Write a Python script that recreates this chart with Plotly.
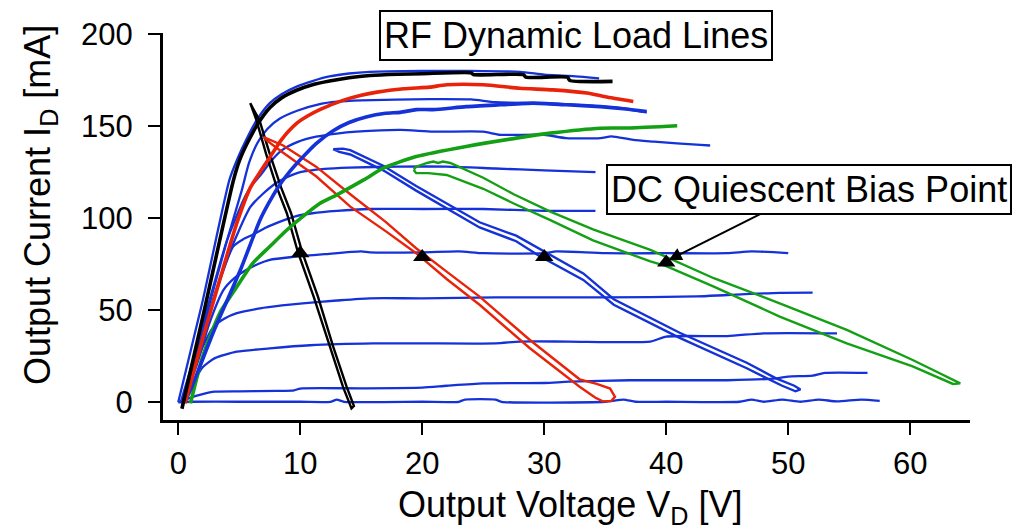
import plotly.graph_objects as go

# ---------------- DC I-V family (blue, thin) ----------------
dc_v0 = [0, 1, 5, 10, 12.5, 13, 13.6, 20, 23, 23.5, 26, 26.5, 35, 36.5, 37.5, 40, 46, 47, 48, 49.5, 51, 52.5, 54, 56, 57.5]
dc_i0 = [0, 0.3, 0.3, 0.3, 0.3, 1.5, 0.3, 0.3, 0.3, 1.5, 1.5, 0.3, 0.3, 1.5, 0.3, 0.3, 0.3, 1.5, 0.3, 1.5, 0.3, 1.5, 0.5, 1.5, 0.8]

dc_v1 = [0.2, 1, 2, 3, 5, 8, 9.5, 10, 15, 20, 22, 25, 30, 32, 37, 45, 49, 50, 52, 53, 56.5]
dc_i1 = [0, 2.5, 4.5, 5.8, 6, 6.2, 6.5, 7.5, 7.6, 8, 9, 10.3, 10.5, 11.2, 12, 12, 13, 14, 14.5, 16, 16]

dc_v2 = [0.3, 1, 2, 3, 4.8, 7.5, 10.8, 16, 20, 26, 28, 32, 38.7, 40, 45, 48, 54]
dc_i2 = [0, 8, 19, 24, 27.5, 29.3, 31, 32, 32, 32, 33, 33, 33, 35.7, 36, 37.5, 37.5]

dc_v3 = [0.3, 1, 2, 2.9, 3.8, 4.8, 6.7, 8.5, 10.2, 13, 15.7, 20, 26, 30, 35, 42.5, 45, 49.3, 52]
dc_i3 = [0, 12, 30, 41, 45.5, 48.4, 51, 52.6, 53.8, 55.3, 56.5, 56.5, 57, 57, 57, 57.5, 58.3, 59.5, 59.6]

dc_v4 = [0.3, 1.5, 2.5, 3.7, 4.6, 5.6, 6.5, 7.5, 9.4, 12, 15, 15.7, 20, 23, 25, 30, 31, 35, 40, 45, 47, 50]
dc_i4 = [0, 20, 42, 61, 67.5, 72, 75, 77.4, 79, 80.5, 82, 81.5, 81.5, 82, 81, 81, 82, 81, 81, 81, 82, 81]

dc_v5 = [0.3, 1.5, 3, 4.5, 5.3, 6.1, 7.2, 8.3, 9.6, 11, 13, 15.7, 20, 25, 30, 34.2]
dc_i5 = [0, 25, 58, 84.6, 88.5, 91, 95, 98, 101, 102.7, 104, 105, 105, 105, 104, 104]

dc_v6 = [0.3, 2, 4, 5.9, 6.9, 8, 9, 10, 12, 14, 18, 22, 26, 30, 34.2]
dc_i6 = [0, 38, 78, 106, 113, 119, 122.5, 125, 126.8, 127.5, 128, 128, 127, 126, 125]

dc_v7 = [0.3, 2, 4, 5.5, 6.1, 6.7, 7.6, 8.5, 9.8, 11.3, 13, 14.6, 18.2, 20.9, 25, 26.4, 30, 31.8, 34.6, 35.5, 37.3, 39, 42.8, 43.6]
dc_i7 = [0, 42, 88, 112, 118.5, 123, 131, 137, 141.5, 144.3, 146, 147, 148, 147, 147, 145.3, 145.3, 143.5, 143.5, 144.5, 142.5, 141.6, 139.8, 139.5]

dc_v8 = [0.2, 2, 4, 5.2, 5.8, 6.5, 7.3, 8.3, 9.8, 11.6, 13, 15, 20.6, 24, 26, 30, 34, 36, 38.4]
dc_i8 = [0, 40, 88, 115, 130, 141, 148.5, 154, 158.5, 162, 163.3, 164, 164.7, 164.5, 163, 162.5, 161, 160, 157.5]

dc_v9 = [0, 2, 4.2, 4.9, 5.6, 6.5, 7.5, 8.5, 9.7, 11, 12.4, 14, 15.7, 20, 24, 28, 30, 32, 34.5]
dc_i9 = [0, 55, 121, 133, 143, 154, 162.5, 167.5, 171.5, 174.5, 177, 178.6, 179.5, 180, 180, 179.5, 178, 177.3, 176]

# ---------------- RF dynamic knee traces (thick) ----------------
black_knee_v = [0.3, 2, 4.5, 5.0, 5.6, 6.5, 7.5, 8.5, 9.7, 11, 12.4, 14, 15.7, 18, 20, 24, 24.2, 28.3, 28.5, 31.9, 32.1, 35.6]
black_knee_i = [-3.5, 46, 120, 131, 140, 151, 160, 165.5, 169.5, 172.5, 174.5, 176.3, 177.5, 178.2, 178.5, 179, 178, 178, 176.6, 176.6, 174.8, 174.3]

red_knee_v = [0.55, 2.05, 3.4, 4.8, 5.9, 6.7, 7.5, 8.5, 9.7, 10.6, 11.6, 13.5, 15, 16.3, 18.5, 20.6, 22, 25, 28, 30.7, 33.5, 35, 37.3]
red_knee_i = [-0.5, 35.7, 66.5, 97.3, 116.5, 125, 133, 143, 151.5, 155.5, 159, 164, 166.8, 168.5, 170.3, 171.2, 172.5, 172.5, 170.6, 169.7, 168, 166, 163.4]

blue_knee_v = [0.5, 1, 3, 5.1, 6.7, 7.4, 8.2, 9.1, 10, 11.3, 12.7, 14, 15.4, 17, 18.2, 19.5, 20.9, 23.6, 26.4, 29.1, 31.8, 34.6, 36.5, 38.4]
blue_knee_i = [0, 6.7, 40, 72, 99, 108, 117, 125, 131.7, 140.5, 147.5, 152, 155, 157, 157.5, 159, 159, 160.6, 161.6, 162.5, 161.6, 160.6, 159.5, 158]

green_knee_v = [1, 2, 3.4, 4.8, 6.1, 7.5, 8.9, 10.2, 11.6, 13, 15.2, 16.8, 19.5, 23.6, 27.7, 30.5, 34.6, 37, 40.9]
green_knee_i = [-0.6, 24.8, 48.4, 62.8, 75.5, 84.6, 93.6, 100.9, 108, 112.7, 120.8, 127.2, 133.5, 139, 143.5, 146.2, 148.9, 149, 150.2]

# ---------------- RF load-line loops ----------------
black_loop_v = [5.9, 6.4, 7.2, 8.1, 8.9, 9.8, 11.1, 12.4, 13.5, 14.2, 14.4, 13.8, 12.7, 11.45, 10.15, 9.25, 8.45, 7.5, 6.65, 6.1, 5.9]
black_loop_i = [162.5, 153.4, 135, 116.3, 102.7, 81.8, 57.4, 30.2, 8.5, -3.3, -2, 8.5, 30.2, 57.4, 81.8, 102.7, 116.3, 135, 153.4, 160, 162.5]

red_loop_v = [7, 8.6, 11.3, 14.1, 17, 19.5, 22, 24.7, 28.8, 32.9, 34.3, 35.4, 35.8, 35.5, 34.8, 34.2, 32.9, 28.8, 24.7, 22, 19.5, 17, 14.1, 11.3, 8.6, 7.3, 7]
red_loop_i = [144, 139.5, 128, 113, 98, 83.7, 71, 57.4, 34, 12.5, 10, 7.5, 3, 0.8, 0.5, 2.5, 8.5, 29.5, 53, 67, 81, 93, 106.3, 122.8, 135.6, 142, 144]

blue_loop_v = [12.7, 13.5, 14.1, 16.8, 19.5, 22.3, 24.7, 27.7, 29.6, 33.2, 35.7, 41.1, 46.6, 49, 50.5, 51, 50.6, 49.5, 46.6, 41.1, 35.7, 33.2, 29.6, 27.7, 24.7, 22.3, 19.5, 16.8, 14.1, 13.2, 12.7]
blue_loop_i = [137.5, 137.8, 137, 128.5, 117.5, 106.8, 97.8, 90.5, 83.5, 70, 56, 37.8, 21.5, 13, 9, 7, 6, 9, 18.5, 35, 53, 66.5, 79.5, 87.5, 95, 104.3, 115, 126, 134.6, 136, 137.5]

green_loop_v = [19.3, 19.5, 20.4, 20.9, 21.3, 21.7, 22.3, 25, 27.5, 30.5, 34, 38.7, 43.9, 49.3, 54.8, 60.2, 62.5, 64.1, 63.5, 60.2, 54.8, 49.3, 43.9, 40, 38.7, 34, 30.5, 27.5, 25, 22, 20.5, 19.5, 19.3]
green_loop_i = [126.3, 128, 130, 130.8, 130, 130.8, 130, 122, 113, 103.6, 94, 82.8, 67.4, 53.8, 39.3, 23, 15.5, 10.3, 10, 19.5, 32, 46.6, 62.8, 74, 76.5, 88, 99, 108, 116, 123.5, 124.5, 124.5, 126.3]

# ---------------- DC quiescent bias points ----------------
bias_v = [10, 20, 30, 40]
bias_i = [81, 79, 79, 76]

BLUE = "rgb(20,50,215)"
RED = "rgb(232,35,10)"
GREEN = "rgb(20,160,20)"
BLACK = "black"
FONT = "Liberation Sans, Arial, sans-serif"

fig = go.Figure()

dc_sets = [(dc_v0, dc_i0), (dc_v1, dc_i1), (dc_v2, dc_i2), (dc_v3, dc_i3), (dc_v4, dc_i4),
           (dc_v5, dc_i5), (dc_v6, dc_i6), (dc_v7, dc_i7), (dc_v8, dc_i8), (dc_v9, dc_i9)]
for v, i in dc_sets:
    fig.add_trace(go.Scatter(x=v, y=i, mode="lines", line=dict(color=BLUE, width=2.3, shape="spline", smoothing=0.6),
                             showlegend=False))

loops = [(black_loop_v, black_loop_i, BLACK), (red_loop_v, red_loop_i, RED),
         (blue_loop_v, blue_loop_i, BLUE), (green_loop_v, green_loop_i, GREEN)]
for v, i, c in loops:
    fig.add_trace(go.Scatter(x=v, y=i, mode="lines", line=dict(color=c, width=2.4), showlegend=False))

knees = [(green_knee_v, green_knee_i, GREEN), (blue_knee_v, blue_knee_i, BLUE),
         (red_knee_v, red_knee_i, RED), (black_knee_v, black_knee_i, BLACK)]
for v, i, c in knees:
    fig.add_trace(go.Scatter(x=v, y=i, mode="lines", line=dict(color=c, width=3.6, shape="spline", smoothing=0.6),
                             showlegend=False))

fig.add_trace(go.Scatter(x=bias_v, y=bias_i, mode="markers",
                         marker=dict(symbol="triangle-up", size=16, color=BLACK), showlegend=False))

axis_common = dict(showline=True, linewidth=3, linecolor="black", ticks="outside", ticklen=12,
                   tickwidth=2, tickcolor="black", showgrid=False, zeroline=False,
                   tickfont=dict(family=FONT, size=31, color="black"))

fig.update_layout(
    width=1026, height=531,
    margin=dict(l=163, r=56, t=33, b=111),
    paper_bgcolor="white", plot_bgcolor="white",
    font=dict(family=FONT, color="black"),
    xaxis=dict(range=[-1.25, 64.9], dtick=10, tick0=0, ticklabelstandoff=2, **axis_common),
    yaxis=dict(range=[-9.6, 200.6], dtick=50, tick0=0, ticklabelstandoff=9, **axis_common),
    annotations=[
        dict(text="RF Dynamic Load Lines", xref="paper", yref="paper", x=0.5115, y=0.993,
             xanchor="center", yanchor="middle", showarrow=False,
             font=dict(family=FONT, size=36, color="black"),
             bordercolor="black", borderwidth=2, borderpad=3, bgcolor="white"),
        dict(text="DC Quiescent Bias Point", x=40.2, y=77.3, xref="x", yref="y",
             ax=51.74, ay=115.7, axref="x", ayref="y",
             showarrow=True, arrowhead=2, arrowsize=1.3, arrowwidth=2, arrowcolor="black",
             font=dict(family=FONT, size=36, color="black"),
             bordercolor="black", borderwidth=2, borderpad=3, bgcolor="white"),
        dict(text="Output Voltage V<sub>D</sub> [V]", xref="paper", yref="paper", x=0.5043, y=-0.225,
             xanchor="center", yanchor="middle", showarrow=False,
             font=dict(family=FONT, size=36, color="black")),
        dict(text="Output Current I<sub>D</sub> [mA]", xref="paper", yref="paper", x=-0.1524, y=0.5556,
             xanchor="center", yanchor="middle", showarrow=False, textangle=-90,
             font=dict(family=FONT, size=36, color="black")),
    ],
)

fig.write_html("out.html")
